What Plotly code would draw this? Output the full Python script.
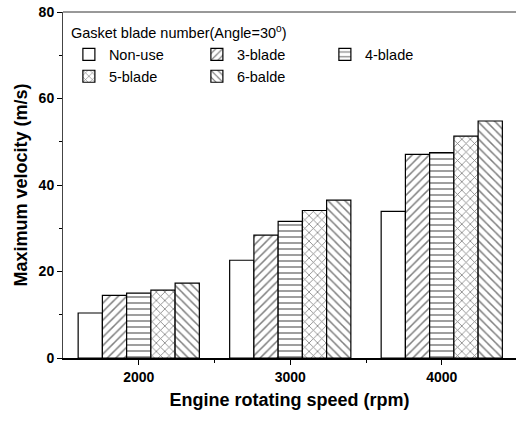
import plotly.graph_objects as go

speeds = [2000, 3000, 4000]
series_names = ["Non-use", "3-blade", "4-blade", "5-blade", "6-balde"]
non_use = [10.4, 22.6, 33.9]
blade3 = [14.5, 28.4, 47.1]
blade4 = [15.0, 31.6, 47.5]
blade5 = [15.7, 34.1, 51.3]
blade6 = [17.3, 36.5, 54.8]
values = [non_use, blade3, blade4, blade5, blade6]
patterns = ["", "/", "-", "x", "\\"]
y_ticks = [0, 20, 40, 60, 80]

fig = go.Figure()
for name, vals, pat in zip(series_names, values, patterns):
    fig.add_trace(go.Bar(
        x=speeds, y=vals, name=name,
        marker=dict(color="white", line=dict(color="black", width=1.2),
                    pattern=dict(shape=pat, fgcolor="black", bgcolor="white",
                                 size=6, solidity=0.25, fillmode="overlay")),
    ))

font = "Liberation Sans, Arial, sans-serif"
fig.update_layout(
    width=516, height=421,
    margin=dict(l=63, r=0, t=12, b=63),
    paper_bgcolor="white", plot_bgcolor="white",
    barmode="group", bargap=0.2, bargroupgap=0,
    font=dict(family=font, color="black", size=14.5),
    legend=dict(
        orientation="h", x=0.013, y=0.978, xanchor="left", yanchor="top",
        entrywidth=83, entrywidthmode="pixels",
        title=dict(text="Gasket blade number(Angle=30<sup>o</sup>)", side="top",
                   font=dict(size=14.5)),
        font=dict(size=14.5), bgcolor="rgba(0,0,0,0)", traceorder="normal",
    ),
    xaxis=dict(
        range=[1500, 4490], tickvals=speeds, ticktext=[str(s) for s in speeds],
        ticks="outside", ticklen=5, tickwidth=1, tickcolor="black",
        minor=dict(tickvals=[2500, 3500], ticks="outside", ticklen=3, tickcolor="black"),
        showline=True, linecolor="black", linewidth=2, mirror=False,
        showgrid=False, zeroline=False,
        tickfont=dict(size=14, family=font, weight="bold"),
        title=dict(text="<b>Engine rotating speed (rpm)</b>", font=dict(size=18), standoff=10),
    ),
    yaxis=dict(
        range=[0, 80], tickvals=y_ticks,
        ticks="outside", ticklen=5, tickwidth=1, tickcolor="black",
        minor=dict(tickvals=[10, 30, 50, 70], ticks="outside", ticklen=3, tickcolor="black"),
        showline=True, linecolor="#444", linewidth=1,
        showgrid=False, zeroline=False,
        tickfont=dict(size=14, family=font, weight="bold"),
        title=dict(text="<b>Maximum velocity (m/s)</b>", font=dict(size=18), standoff=6),
    ),
    shapes=[dict(type="line", xref="paper", yref="paper", x0=0, x1=1, y0=1, y1=1,
                 line=dict(color="#333", width=1))],
)

fig.write_html("out.html", config={"displayModeBar": False},
               post_script="document.body.style.margin='0';")
